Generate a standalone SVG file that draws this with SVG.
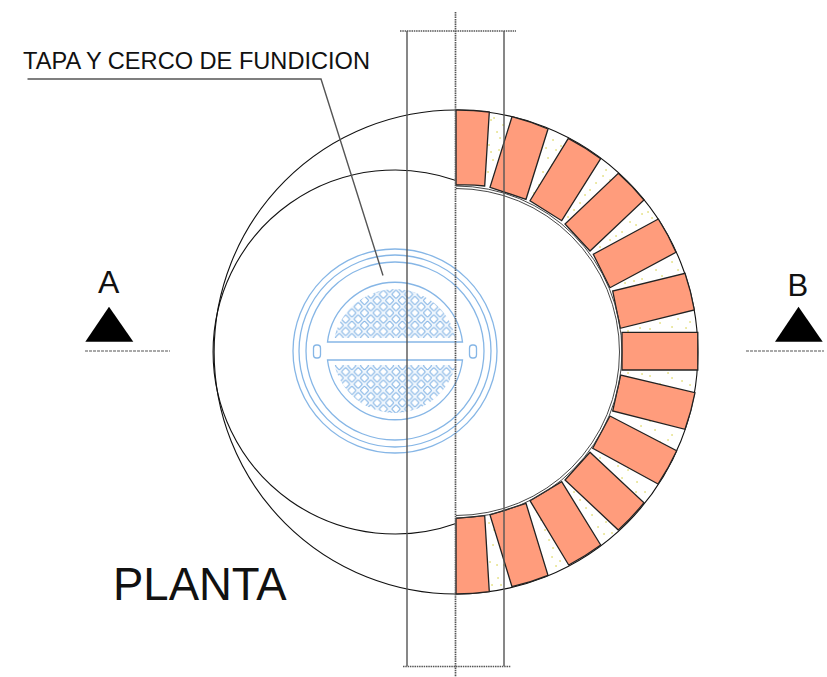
<svg xmlns="http://www.w3.org/2000/svg" width="827" height="677" viewBox="0 0 827 677">
<style>
text{font-family:"Liberation Sans",Arial,sans-serif;fill:#111}
.ln{fill:none;stroke:#111;stroke-width:1.1}
.in{fill:none;stroke:#333;stroke-width:.9}
.gr{fill:none;stroke:#555;stroke-width:1.4}
.dot{fill:none;stroke:#555;stroke-width:1.7;stroke-dasharray:1.5 .8}
.bl{fill:none;stroke:#86b6e6;stroke-width:1.3}
.bk{fill:#ff9c7c;stroke:#222;stroke-width:1.3}
</style>
<defs>
<g id="dm"><rect x="-3.1" y="-3.1" width="6.2" height="6.200" rx="1.3" transform="rotate(45)" fill="#fff" stroke="#86b6e6" stroke-width="1.100"/></g>
<pattern id="lat" width="12.6" height="12.4" patternUnits="userSpaceOnUse" x="5.4" y="9.1">
<rect width="12.6" height="12.4" fill="#f1f7fd"/>
<use href="#dm"/><use href="#dm" x="12.6"/><use href="#dm" y="12.4"/><use href="#dm" x="12.6" y="12.4"/><use href="#dm" x="6.3" y="6.2"/>
</pattern>
<pattern id="lat2" href="#lat" y="12.2"/>
</defs>
<g id="shell">
<path class="ln" d="M456 110A242 242 0 0 0 456 594"/>
<path class="ln" d="M456 180.500A182 182 0 1 0 456 523.500"/>
</g>
<g id="wall">
<path class="ln" d="M456 110A242 242 0 0 1 456 594"/>
<path fill="none" stroke="#e6e28a" stroke-width="1.8" stroke-linecap="round" d="M491 120h.1M497 132h.1M489 145h.1M503 125h.1M493 160h.1M488 172h.1M499 150h.1M495 176h.1M494 118h.1M500 138h.1M491 152h.1M553 140h.1M548 158h.1M543 172h.1M556 150h.1M539 185h.1M561 146h.1M534 193h.1M552 165h.1M546 148h.1M606 170h.1M596 183h.1M585 195h.1M603 176h.1M574 210h.1M590 190h.1M568 217h.1M580 203h.1M610 180h.1M648 212h.1M636 225h.1M622 232h.1M630 222h.1M610 240h.1M652 218h.1M600 247h.1M616 236h.1M642 214h.1M672 262h.1M656 270h.1M642 279h.1M662 276h.1M625 283h.1M678 270h.1M634 281h.1M650 265h.1M690 322h.1M672 327h.1M650 329h.1M678 319h.1M640 328h.1M628 331h.1M660 323h.1M686 328h.1M628 373h.1M650 376h.1M672 378h.1M690 385h.1M682 381h.1M642 374h.1M660 384h.1M668 373h.1M625 408h.1M641 426h.1M655 430h.1M668 440h.1M650 421h.1M672 435h.1M634 415h.1M660 442h.1M608 451h.1M618 466h.1M637 482h.1M628 470h.1M645 492h.1M600 458h.1M622 478h.1M636 492h.1M574 492h.1M586 508h.1M598 527h.1M606 522h.1M580 500h.1M612 533h.1M592 515h.1M604 534h.1M537 512h.1M545 530h.1M553 548h.1M560 561h.1M549 540h.1M556 566h.1M541 520h.1M552 557h.1M489 523h.1M493 545h.1M497 565h.1M501 585h.1M498 578h.1M490 562h.1M504 565h.1M494 530h.1M492 585h.1"/>
<path class="bk" d="M456 110A242 242 0 0 1 489.300 112L484.700 186A166 166 0 0 0 456 185Z"/>
<path class="bk" d="M512 116.700A242 242 0 0 1 548 129L526 199.300L490 187.300Z"/>
<path class="bk" d="M568.300 138.300A242 242 0 0 1 600.700 158.700L561.700 220.700L530 200.700Z"/>
<path class="bk" d="M618.300 173.300A242 242 0 0 1 644 200L590 251L565 224Z"/>
<path class="bk" d="M658.300 219A242 242 0 0 1 676 252.300L610 287.700L593.300 254.300Z"/>
<path class="bk" d="M685 273.300A242 242 0 0 1 694.300 310L620.300 328.300L612.700 291Z"/>
<path class="bk" d="M697.800 332.300V370H622V332.300Z"/>
<path class="bk" d="M695 392.700A242 242 0 0 1 685 429.300L612.700 411L620.700 375Z"/>
<path class="bk" d="M676.700 450.700A242 242 0 0 1 658 484L592.700 448.300L610 416Z"/>
<path class="bk" d="M644 502.700A242 242 0 0 1 618.300 530L565 480L590 452.300Z"/>
<path class="bk" d="M600.700 545A242 242 0 0 1 568.700 565L530 500.700L561.700 481.700Z"/>
<path class="bk" d="M548 575.300A242 242 0 0 1 512 586.700L490 515L526 503.300Z"/>
<path class="bk" d="M489.300 591.700A242 242 0 0 1 456 594V518.300L484.700 515.700Z"/>
<path class="in" d="M456 186A166 166 0 0 1 456 518M456 188.500A163.500 163.500 0 0 1 456 515.500"/>
</g>
<g id="cover">
<circle cx="395" cy="351" r="102" class="bl"/>
<circle cx="395" cy="351" r="96" class="bl" stroke-width="2.2"/>
<circle cx="395" cy="351" r="89" class="bl"/>
<path d="M334.400 338H455.600A62 62 0 0 0 334.400 338Z" fill="url(#lat)"/>
<path d="M334.600 365H455.400A62 62 0 0 1 334.600 365Z" fill="url(#lat2)"/>
<path class="bl" d="M327.500 342H462.500A68 68 0 0 0 327.500 342ZM327.500 360H462.500A68 68 0 0 1 327.500 360Z"/>
<rect x="313.500" y="345" width="7" height="13" rx="3" class="bl"/>
<rect x="469.500" y="345" width="7" height="13" rx="3" class="bl"/>
</g>
<g id="pipe">
<path class="gr" d="M407 31V666M504 31V666"/>
<path class="dot" d="M400 31H516M403 666.500H511M455.500 12V677"/>
</g>
<g id="label-tapa">
<text x="23" y="68.500" font-size="23.600">TAPA Y CERCO DE FUNDICION</text>
<path class="gr" d="M27.500 79H321L383 275.500"/>
</g>
<g id="section-a">
<text x="98" y="293" font-size="32">A</text>
<path d="M109 306.700L133.300 341.700H85.300Z" fill="#000"/>
<path d="M85 351H170" stroke="#555" fill="none" stroke-width="1.2" stroke-dasharray="3 1"/>
</g>
<g id="section-b">
<text x="787.500" y="295.500" font-size="31">B</text>
<path d="M798.500 306.700L822.700 341.700H775Z" fill="#000"/>
<path d="M746 351H824" stroke="#555" fill="none" stroke-width="1.2" stroke-dasharray="3 1"/>
</g>
<text id="title" x="113" y="600" font-size="45.500">PLANTA</text>
</svg>
